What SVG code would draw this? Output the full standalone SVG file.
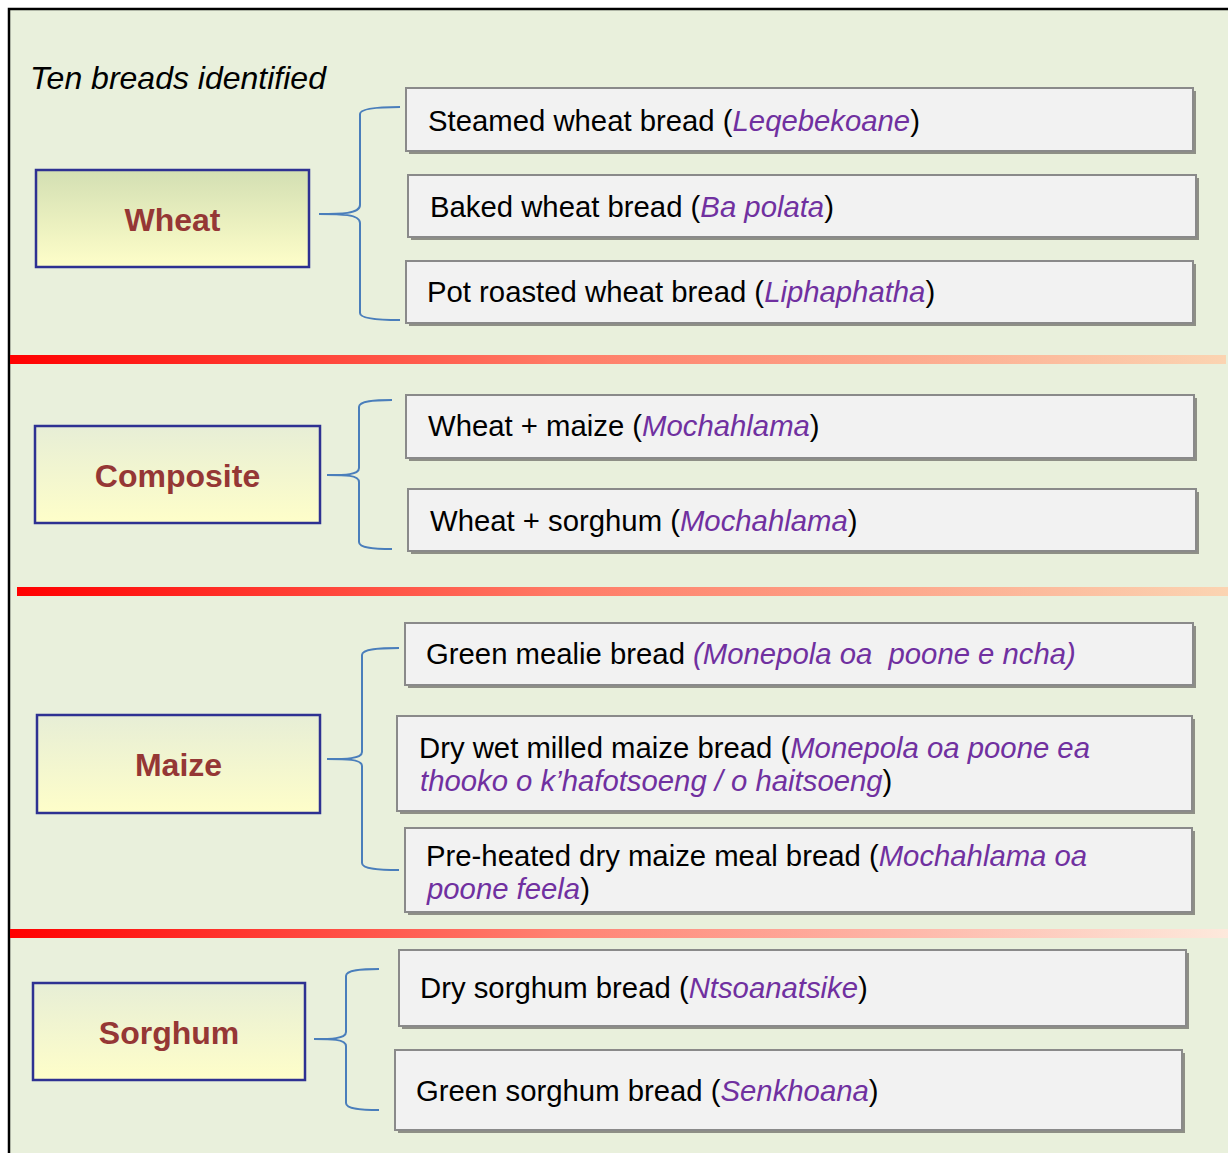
<svg xmlns="http://www.w3.org/2000/svg" width="1228" height="1153" viewBox="0 0 1228 1153">
  <defs>
    <linearGradient id="catWheat" x1="0" y1="0" x2="0" y2="1">
      <stop offset="0" stop-color="#d3dfb3"/>
      <stop offset="1" stop-color="#fefec9"/>
    </linearGradient>
    <linearGradient id="catPale" x1="0" y1="0" x2="0" y2="1">
      <stop offset="0" stop-color="#e7eed6"/>
      <stop offset="1" stop-color="#fefec9"/>
    </linearGradient>
    <linearGradient id="itemTop" x1="0" y1="0" x2="0" y2="1">
      <stop offset="0" stop-color="#efefef"/>
      <stop offset="1" stop-color="#ffffff"/>
    </linearGradient>
    <linearGradient id="sep" x1="0" y1="0" x2="1" y2="0">
      <stop offset="0" stop-color="#ff0000"/>
      <stop offset="0.45" stop-color="#ff7b66"/>
      <stop offset="1" stop-color="#fbd4b2"/>
    </linearGradient>
    <linearGradient id="sepPale" x1="0" y1="0" x2="1" y2="0">
      <stop offset="0" stop-color="#ff0000"/>
      <stop offset="0.45" stop-color="#ff8272"/>
      <stop offset="1" stop-color="#fde9dc"/>
    </linearGradient>
  </defs>
  <style>
    .frame { fill: #e9f0dc; stroke: #000; stroke-width: 2.5; }
    .cat { stroke: #2e3192; stroke-width: 2.5; }
    .catText { font-family: "Liberation Sans", Arial, sans-serif; font-weight: bold; font-size: 32px; fill: #953735; text-anchor: middle; }
    .shadow { fill: #8e8f86; }
    .item { fill: #f2f2f2; stroke: #8a8a8a; stroke-width: 2; }
    .txt { font-family: "Liberation Sans", Arial, sans-serif; font-size: 29.3px; fill: #000; }
    .it { font-style: italic; fill: #7030a0; }
    .title { font-family: "Liberation Sans", Arial, sans-serif; font-size: 32px; font-style: italic; fill: #000; }
    .brace { fill: none; stroke: #4a7ebb; stroke-width: 2; }
  </style>

  <!-- background panel -->
  <rect x="0" y="0" width="1228" height="1153" fill="#ffffff"/>
  <rect class="frame" x="9" y="9" width="1240" height="1170"/>

  <text class="title" x="30" y="89">Ten breads identified</text>

  <!-- section separators -->
  <rect x="10" y="355" width="1216" height="9" fill="url(#sep)"/>
  <rect x="17" y="587" width="1211" height="9" fill="url(#sep)"/>
  <rect x="10" y="929" width="1218" height="9" fill="url(#sepPale)"/>

  <!-- category nodes -->
  <g id="cat-wheat">
    <rect class="cat" x="36" y="170" width="273" height="97" fill="url(#catWheat)"/>
    <text class="catText" x="172.5" y="231">Wheat</text>
  </g>
  <g id="cat-composite">
    <rect class="cat" x="35" y="426" width="285" height="97" fill="url(#catPale)"/>
    <text class="catText" x="177.5" y="487">Composite</text>
  </g>
  <g id="cat-maize">
    <rect class="cat" x="37" y="715" width="283" height="98" fill="url(#catPale)"/>
    <text class="catText" x="178.5" y="776">Maize</text>
  </g>
  <g id="cat-sorghum">
    <rect class="cat" x="33" y="983" width="272" height="97" fill="url(#catPale)"/>
    <text class="catText" x="169" y="1044">Sorghum</text>
  </g>

  <!-- braces linking categories to breads -->
  <g id="connectors">
    <path class="brace" d="M319,214 C340,214 360,214 360,205 L360,114 C360,108 380,107 400,107 M360,223 C360,214 340,214 319,214 M360,223 L360,313 C360,319 380,320 400,320"/>
    <path class="brace" d="M327,475 C345,475 359,475 359,468 L359,407 C359,401 375,400 392,400 M359,482 C359,475 345,475 327,475 M359,482 L359,542 C359,548 375,549 392,549"/>
    <path class="brace" d="M327,759 C345,759 362,759 362,752 L362,655 C362,649 380,648 399,648 M362,766 C362,759 345,759 327,759 M362,766 L362,863 C362,869 380,870 399,870"/>
    <path class="brace" d="M314,1039 C330,1039 346,1039 346,1032 L346,976 C346,970 362,969 379,969 M346,1046 C346,1039 330,1039 314,1039 M346,1046 L346,1103 C346,1109 362,1110 379,1110"/>
  </g>

  <!-- bread nodes -->
  <g id="bread-steamed">
    <rect class="shadow" x="409" y="91" width="787" height="63"/>
    <rect class="item" x="406" y="88" width="787" height="63" fill="url(#itemTop)"/>
    <text class="txt" x="428" y="131">Steamed wheat bread (<tspan class="it">Leqebekoane</tspan>)</text>
  </g>
  <g id="bread-baked">
    <rect class="shadow" x="411" y="178" width="788" height="62"/>
    <rect class="item" x="408" y="175" width="788" height="62"/>
    <text class="txt" x="430" y="217">Baked wheat bread (<tspan class="it">Ba polata</tspan>)</text>
  </g>
  <g id="bread-pot-roasted">
    <rect class="shadow" x="409" y="264" width="787" height="62"/>
    <rect class="item" x="406" y="261" width="787" height="62"/>
    <text class="txt" x="427" y="302">Pot roasted wheat bread (<tspan class="it">Liphaphatha</tspan>)</text>
  </g>
  <g id="bread-wheat-maize">
    <rect class="shadow" x="409" y="398" width="788" height="63"/>
    <rect class="item" x="406" y="395" width="788" height="63"/>
    <text class="txt" x="428" y="436">Wheat + maize (<tspan class="it">Mochahlama</tspan>)</text>
  </g>
  <g id="bread-wheat-sorghum">
    <rect class="shadow" x="411" y="492" width="788" height="62"/>
    <rect class="item" x="408" y="489" width="788" height="62"/>
    <text class="txt" x="430" y="531">Wheat + sorghum (<tspan class="it">Mochahlama</tspan>)</text>
  </g>
  <g id="bread-green-mealie">
    <rect class="shadow" x="408" y="626" width="788" height="62"/>
    <rect class="item" x="405" y="623" width="788" height="62"/>
    <text class="txt" x="426" y="664" xml:space="preserve">Green mealie bread <tspan class="it">(Monepola oa  poone e ncha)</tspan></text>
  </g>
  <g id="bread-dry-wet-milled">
    <rect class="shadow" x="400" y="719" width="795" height="95"/>
    <rect class="item" x="397" y="716" width="795" height="95"/>
    <text class="txt" x="419" y="758">Dry wet milled maize bread (<tspan class="it">Monepola oa poone ea</tspan></text>
    <text class="txt" x="420" y="791"><tspan class="it">thooko o k’hafotsoeng / o haitsoeng</tspan>)</text>
  </g>
  <g id="bread-pre-heated">
    <rect class="shadow" x="408" y="831" width="787" height="84"/>
    <rect class="item" x="405" y="828" width="787" height="84"/>
    <text class="txt" x="426" y="866">Pre-heated dry maize meal bread (<tspan class="it">Mochahlama oa</tspan></text>
    <text class="txt" x="427" y="899"><tspan class="it">poone feela</tspan>)</text>
  </g>
  <g id="bread-dry-sorghum">
    <rect class="shadow" x="402" y="953" width="787" height="76"/>
    <rect class="item" x="399" y="950" width="787" height="76"/>
    <text class="txt" x="420" y="998">Dry sorghum bread (<tspan class="it">Ntsoanatsike</tspan>)</text>
  </g>
  <g id="bread-green-sorghum">
    <rect class="shadow" x="398" y="1053" width="787" height="80"/>
    <rect class="item" x="395" y="1050" width="787" height="80"/>
    <text class="txt" x="416" y="1101">Green sorghum bread (<tspan class="it">Senkhoana</tspan>)</text>
  </g>
</svg>
